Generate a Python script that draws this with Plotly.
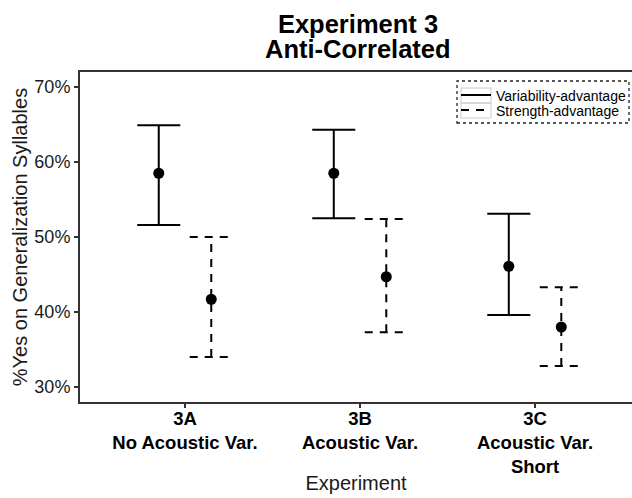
import plotly.graph_objects as go

# ---- data ----
categories = ["3A", "3B", "3C"]
category_labels = ["3A<br>No Acoustic Var.", "3B<br>Acoustic Var.", "3C<br>Acoustic Var.<br>Short"]
series_names = ["Variability-advantage", "Strength-advantage"]

var_mean = [58.5, 58.5, 46.1]
var_low = [51.6, 52.5, 39.6]
var_high = [64.9, 64.3, 53.1]

str_mean = [41.7, 44.7, 38.0]
str_low = [34.0, 37.3, 32.8]
str_high = [50.0, 52.4, 43.3]

y_ticks = [30, 40, 50, 60, 70]

# ---- styling ----
FONT = "Liberation Sans, Arial, sans-serif"
DODGE = 0.15
CAP = 0.123  # half cap width in x units
INK = "#000000"
AXIS = "#333333"
PL, PT, PW, PH = 80, 72, 552, 330  # plot area in px


def px_x(x):
    return (x - PL) / PW


def px_y(y):
    return (PT + PH - y) / PH


fig = go.Figure()


def errbar_path(means, lows, highs, offset):
    xs, ys = [], []
    for i, (m, lo, hi) in enumerate(zip(means, lows, highs)):
        xc = i + 1 + offset
        xs += [xc, xc, None, xc - CAP, xc + CAP, None, xc - CAP, xc + CAP, None]
        ys += [lo, hi, None, hi, hi, None, lo, lo, None]
    return xs, ys


for name, means, lows, highs, off, dash, leg in [
    (series_names[0], var_mean, var_low, var_high, -DODGE, "solid", "legend"),
    (series_names[1], str_mean, str_low, str_high, DODGE, "8px,7px", "legend2"),
]:
    xs, ys = errbar_path(means, lows, highs, off)
    fig.add_trace(go.Scatter(
        x=xs, y=ys, mode="lines", name=name, legendgroup=name, legend=leg,
        line=dict(color=INK, width=2, dash=dash),
        hoverinfo="skip",
    ))
    fig.add_trace(go.Scatter(
        x=[i + 1 + off for i in range(len(categories))], y=means,
        mode="markers", name=name, legendgroup=name, showlegend=False, legend=leg,
        marker=dict(color=INK, size=11, symbol="circle"),
    ))

legend_common = dict(
    x=px_x(456), xanchor="left", yanchor="middle",
    bgcolor="rgba(0,0,0,0)", borderwidth=0,
    font=dict(family=FONT, size=14, color="#000"),
    itemwidth=30,
)

fig.update_layout(
    width=632, height=498,
    margin=dict(l=PL, r=0, t=PT, b=498 - PT - PH),
    paper_bgcolor="white", plot_bgcolor="white",
    font=dict(family=FONT, color="#1a1a1a"),
    showlegend=True,
    legend=dict(y=px_y(95.5), **legend_common),
    legend2=dict(y=px_y(110.5), **legend_common),
    title=dict(
        text="<b>Experiment 3</b>", x=358 / 632, xanchor="center",
        xref="container", yref="container", y=1 - 15 / 498, yanchor="top",
        font=dict(family=FONT, size=25.5, color="#000"),
    ),
    annotations=[dict(
        text="<b>Anti-Correlated</b>", xref="paper", yref="paper",
        x=px_x(358), y=1 + 7 / PH, xanchor="center", yanchor="bottom",
        showarrow=False, font=dict(family=FONT, size=25.5, color="#000"),
    )],
    shapes=[
        dict(type="rect", xref="paper", yref="paper",
             x0=px_x(457), x1=px_x(629), y0=px_y(123), y1=px_y(81),
             line=dict(color="#222", width=1.3, dash="dot"),
             fillcolor="rgba(0,0,0,0)"),
        dict(type="rect", xref="paper", yref="paper",
             x0=px_x(461), x1=px_x(491), y0=px_y(103), y1=px_y(88),
             line=dict(color="#cccccc", width=1), fillcolor="rgba(0,0,0,0)", layer="below"),
        dict(type="rect", xref="paper", yref="paper",
             x0=px_x(461), x1=px_x(491), y0=px_y(118), y1=px_y(103),
             line=dict(color="#cccccc", width=1), fillcolor="rgba(0,0,0,0)", layer="below"),
    ],
)

fig.update_xaxes(
    range=[0.4, 3.554],
    tickmode="array", tickvals=[1, 2, 3],
    ticktext=["<b>" + t + "</b>" for t in category_labels],
    tickfont=dict(family=FONT, size=18.5, color="#000"),
    ticks="outside", ticklen=4, tickwidth=1.5, tickcolor=AXIS,
    ticklabelstandoff=-5,
    showline=True, linecolor=AXIS, linewidth=2, mirror=True,
    showgrid=False, zeroline=False,
    title=dict(text="Experiment", font=dict(family=FONT, size=20, color="#1a1a1a"), standoff=0),
    automargin=False,
)
fig.update_yaxes(
    range=[28, 72],
    tickmode="array", tickvals=y_ticks, ticktext=[f"{v}%" for v in y_ticks],
    tickfont=dict(family=FONT, size=18, color="#1a1a1a"),
    ticks="outside", ticklen=4, tickwidth=1.5, tickcolor=AXIS,
    showline=True, linecolor=AXIS, linewidth=2, mirror=False,
    showgrid=False, zeroline=False,
    title=dict(text="%Yes on Generalization Syllables", font=dict(family=FONT, size=20, color="#1a1a1a"), standoff=1),
    automargin=False,
)

fig.write_html(
    "out.html",
    config={"displayModeBar": False},
    post_script="document.body.style.margin='0';document.body.style.overflow='hidden';",
)
